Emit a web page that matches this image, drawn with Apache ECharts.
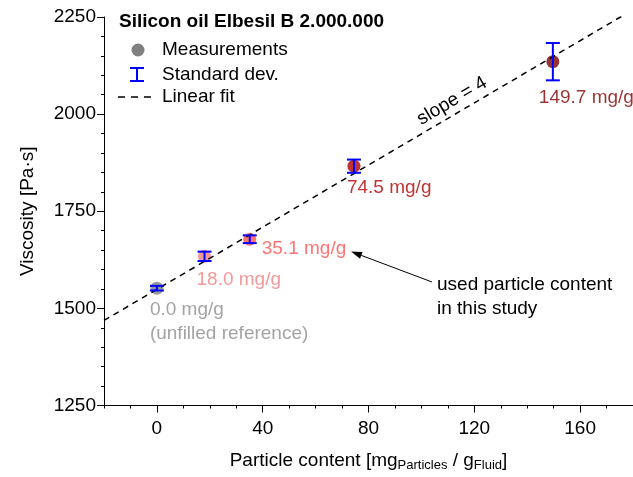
<!DOCTYPE html>
<html>
<head>
<meta charset="utf-8">
<script src="https://cdn.jsdelivr.net/npm/echarts@6/dist/echarts.min.js"></script>
<style>
  html, body { margin: 0; padding: 0; background: #fff; }
  #chart { width: 633px; height: 477px; }
</style>
</head>
<body>
<div id="chart"></div>
<script>
// Particle content (mg particles per g fluid) of each sample
var particleContent = [0.0, 18.0, 35.1, 74.5, 149.7];
// Measured viscosity [Pa·s]
var viscosity = [1552, 1634, 1678, 1866, 2135];
// Standard deviation of the viscosity [Pa·s]
var viscosityStd = [6, 12, 10, 17, 48];
// Extra text under a point label
var noteText = ['(unfilled reference)', '', '', '', ''];
// Linear fit endpoints (slope = 4)
var fitX = [-20, 180];
var fitY = [1469, 2269];
// Tick labels
var xTickLabels = [0, 40, 80, 120, 160];
var yTickLabels = [1250, 1500, 1750, 2000, 2250];

// Styling
var FONT = "'Liberation Sans', Arial, Helvetica, sans-serif";
var FS = 19;
var pointColors = ['#808080', '#f08080', '#ff5050', '#b00000', '#7d0000'];
var labelColors = ['#8c8c8c', '#f08080', '#ff5050', '#b00000', '#800000'];
// label offset of text-left / first-line-centre from the marker centre
var labelOffsets = [[-7, 22], [-8, 23], [12, 10], [-7, 22], [-14, 36]];
var SYMBOL = 13;

var chart = echarts.init(document.getElementById('chart'), null, { renderer: 'canvas' });

var scatterData = particleContent.map(function (x, i) {
  var off = labelOffsets[i];
  return {
    value: [x, viscosity[i]],
    itemStyle: { color: pointColors[i] },
    label: {
      show: true,
      position: [off[0] + SYMBOL / 2, off[1] - 12 + SYMBOL / 2],
      align: 'left',
      verticalAlign: 'top',
      lineHeight: 24,
      color: labelColors[i],
      fontFamily: FONT,
      fontSize: FS,
      formatter: function () {
        var t = x.toFixed(1) + ' mg/g';
        return noteText[i] ? t + '\n' + noteText[i] : t;
      }
    }
  };
});

var errData = particleContent.map(function (x, i) {
  return [x, viscosity[i] - viscosityStd[i], viscosity[i] + viscosityStd[i]];
});

var fitData = fitX.map(function (x, i) { return [x, fitY[i]]; });

// arrow geometry for the annotation
var arrowTail = [432, 282], arrowTip = [351, 251.5];
var ax = arrowTip[0] - arrowTail[0], ay = arrowTip[1] - arrowTail[1];
var alen = Math.sqrt(ax * ax + ay * ay);
var ux = ax / alen, uy = ay / alen;
var headLen = 11, headHalf = 3.5;
var bx = arrowTip[0] - ux * headLen, by = arrowTip[1] - uy * headLen;
var headPts = [
  arrowTip,
  [bx + uy * headHalf, by - ux * headHalf],
  [bx - uy * headHalf, by + ux * headHalf]
];

var option = {
  animation: false,
  backgroundColor: '#ffffff',
  textStyle: { fontFamily: FONT },
  grid: { left: 104, top: 17, width: 530, height: 390, containLabel: false },
  xAxis: [{
    type: 'value',
    min: -20, max: 180, interval: 10,
    name: '{n|Particle content [mg}{s|Particles}{n| / g}{s|Fluid}{n|]}',
    nameLocation: 'middle',
    nameGap: 44,
    nameTextStyle: {
      rich: {
        n: { fontSize: FS, fontFamily: FONT, color: '#000', lineHeight: 22 },
        s: { fontSize: 13, fontFamily: FONT, color: '#000', lineHeight: 12, padding: [10, 0, 0, 0] }
      }
    },
    axisLine: { show: true, onZero: false, lineStyle: { color: '#000', width: 1 } },
    axisTick: { show: true, length: 3, lineStyle: { color: '#000' } },
    axisLabel: { customValues: xTickLabels, color: '#000', fontSize: FS, fontFamily: FONT, margin: 14 },
    splitLine: { show: false }
  }, {
    // long ticks at the labelled values
    type: 'value',
    gridIndex: 0,
    position: 'bottom',
    min: -20, max: 180, interval: 10,
    axisLine: { show: false },
    axisTick: { show: true, length: 7, customValues: xTickLabels, lineStyle: { color: '#000' } },
    axisLabel: { show: false },
    splitLine: { show: false }
  }],
  yAxis: {
    type: 'value',
    min: 1250, max: 2250, interval: 250,
    name: 'Viscosity [Pa·s]',
    nameLocation: 'middle',
    nameGap: 67,
    nameTextStyle: { fontSize: FS, fontFamily: FONT, color: '#000' },
    axisLine: { show: true, onZero: false, lineStyle: { color: '#000', width: 1 } },
    axisTick: { show: true, length: 7, lineStyle: { color: '#000' } },
    minorTick: { show: true, splitNumber: 5, length: 3, lineStyle: { color: '#000' } },
    axisLabel: {
      customValues: yTickLabels, color: '#000', fontSize: FS, fontFamily: FONT, margin: 8,
      formatter: function (v) { return String(v); }
    },
    splitLine: { show: false }
  },
  series: [
    {
      name: 'Measurements',
      type: 'scatter',
      symbol: 'circle',
      symbolSize: SYMBOL,
      z: 2,
      data: scatterData
    },
    {
      name: 'Linear fit',
      type: 'line',
      data: fitData,
      symbol: 'none',
      clip: true,
      z: 3,
      lineStyle: { color: '#000', width: 1.5, type: [6, 5] }
    },
    {
      name: 'Standard dev.',
      type: 'custom',
      z: 4,
      data: errData,
      renderItem: function (params, api) {
        var x = api.value(0);
        var lo = api.coord([x, api.value(1)]);
        var hi = api.coord([x, api.value(2)]);
        var hw = 7;
        var st = { stroke: '#0000ff', lineWidth: 2 };
        return {
          type: 'group',
          children: [
            { type: 'line', shape: { x1: lo[0], y1: lo[1], x2: hi[0], y2: hi[1] }, style: st },
            { type: 'line', shape: { x1: lo[0] - hw, y1: lo[1], x2: lo[0] + hw, y2: lo[1] }, style: st },
            { type: 'line', shape: { x1: hi[0] - hw, y1: hi[1], x2: hi[0] + hw, y2: hi[1] }, style: st }
          ]
        };
      }
    }
  ],
  graphic: [
    // legend block
    { type: 'text', x: 119, y: 22, style: { text: 'Silicon oil Elbesil B 2.000.000', font: 'bold ' + FS + 'px ' + FONT, fill: '#000', textVerticalAlign: 'middle' } },
    { type: 'circle', shape: { cx: 138, cy: 50, r: 6.5 }, style: { fill: '#808080' } },
    { type: 'text', x: 162, y: 50, style: { text: 'Measurements', font: FS + 'px ' + FONT, fill: '#000', textVerticalAlign: 'middle' } },
    { type: 'line', shape: { x1: 137, y1: 68, x2: 137, y2: 81 }, style: { stroke: '#0000ff', lineWidth: 2 } },
    { type: 'line', shape: { x1: 130, y1: 68, x2: 144, y2: 68 }, style: { stroke: '#0000ff', lineWidth: 2 } },
    { type: 'line', shape: { x1: 130, y1: 81, x2: 144, y2: 81 }, style: { stroke: '#0000ff', lineWidth: 2 } },
    { type: 'text', x: 162, y: 75, style: { text: 'Standard dev.', font: FS + 'px ' + FONT, fill: '#000', textVerticalAlign: 'middle' } },
    { type: 'line', shape: { x1: 118, y1: 97, x2: 155, y2: 97 }, style: { stroke: '#000', lineWidth: 1.5, lineDash: [7, 6] } },
    { type: 'text', x: 162, y: 97, style: { text: 'Linear fit', font: FS + 'px ' + FONT, fill: '#000', textVerticalAlign: 'middle' } },
    // slope annotation along the fit line
    { type: 'text', x: 452, y: 101, rotation: 30.5 * Math.PI / 180, style: { text: 'slope = 4', font: FS + 'px ' + FONT, fill: '#000', textAlign: 'center', textVerticalAlign: 'middle' } },
    // note with arrow
    { type: 'text', x: 437, y: 273, style: { text: 'used particle content\nin this study', font: FS + 'px ' + FONT, fill: '#000', lineHeight: 24, textVerticalAlign: 'top' } },
    { type: 'line', shape: { x1: arrowTail[0], y1: arrowTail[1], x2: bx, y2: by }, style: { stroke: '#000', lineWidth: 1 } },
    { type: 'polygon', shape: { points: headPts }, style: { fill: '#000' } }
  ]
};

chart.setOption(option);
</script>
</body>
</html>
